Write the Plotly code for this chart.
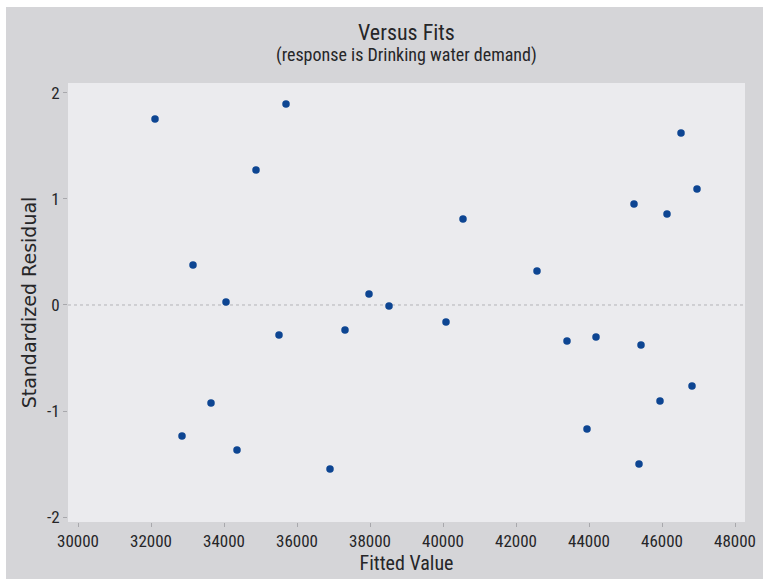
import plotly.graph_objects as go

# Data (Minitab "Versus Fits" residual plot)
fitted_values = [32110, 32849, 33151, 33644, 34055, 34356, 34877, 35507, 35699,
                 36904, 37315, 37973, 38521, 40082, 40548, 42575, 43397, 43945,
                 44192, 45233, 45370, 45425, 45945, 46137, 46521, 46822, 46959]
std_residuals = [1.755, -1.236, 0.377, -0.925, 0.028, -1.368, 1.274, -0.283, 1.896,
                 -1.547, -0.236, 0.104, -0.009, -0.160, 0.811, 0.321, -0.340, -1.170,
                 -0.302, 0.953, -1.500, -0.377, -0.906, 0.858, 1.623, -0.764, 1.094]
x_ticks = [30000, 32000, 34000, 36000, 38000, 40000, 42000, 44000, 46000, 48000]
x_ticktext = ["30000", "32000", "34000", "36000", "38000", "40000", "42000", "44000", "46000", "48000"]
y_ticks = [-2, -1, 0, 1, 2]
y_ticktext = ["-2", "-1", "0", "1", "2"]

FONT = "Roboto Condensed"
WIDE = "DejaVu Sans"
TXT = "#262628"

fig = go.Figure()
fig.add_trace(go.Scatter(
    x=fitted_values, y=std_residuals, mode="markers",
    marker=dict(color="#0d4592", size=7.5, line=dict(width=0)),
    showlegend=False, hoverinfo="x+y"))

# reference line at zero
fig.add_shape(type="line", xref="paper", yref="y", x0=0, x1=1, y0=0, y1=0,
              line=dict(color="#b4b4b8", width=1, dash="dot"), layer="below")

# white strips at the top and left edge of the picture
fig.add_shape(type="rect", xref="paper", yref="paper",
              x0=-68 / 677, x1=-62 / 677, y0=-57 / 439, y1=522 / 439,
              fillcolor="white", line=dict(width=0), layer="above")
fig.add_shape(type="rect", xref="paper", yref="paper",
              x0=-68 / 677, x1=695 / 677, y0=515 / 439, y1=522 / 439,
              fillcolor="white", line=dict(width=0), layer="above")

fig.add_annotation(text="Versus Fits", xref="paper", yref="paper",
                   x=0.5, y=(522 - 33) / 439, xanchor="center", yanchor="middle",
                   showarrow=False, font=dict(family=FONT, size=22, color=TXT))
fig.add_annotation(text="(response is Drinking water demand)", xref="paper", yref="paper",
                   x=0.5, y=(522 - 55) / 439, xanchor="center", yanchor="middle",
                   showarrow=False, font=dict(family=FONT, size=18, color=TXT))

fig.update_layout(
    template="none",
    width=763, height=579, autosize=False,
    margin=dict(l=68, r=18, t=83, b=57, pad=0),
    paper_bgcolor="#d5d5d8", plot_bgcolor="#ebebee",
    font=dict(family=FONT, color=TXT),
    xaxis=dict(range=[29726, 48274], tickvals=x_ticks, ticktext=x_ticktext,
               automargin=False, ticks="outside", ticklen=4, tickwidth=1,
               tickcolor="#a8a8ac", showgrid=False, zeroline=False, showline=False,
               tickfont=dict(family=FONT, size=17, color=TXT),
               title=dict(text="Fitted Value", standoff=1,
                          font=dict(family=FONT, size=20, color=TXT))),
    yaxis=dict(range=[-2.047, 2.094], tickvals=y_ticks, ticktext=y_ticktext,
               automargin=False, ticks="outside", ticklen=4, tickwidth=1,
               tickcolor="#a8a8ac", showgrid=False, zeroline=False, showline=False,
               tickfont=dict(family=FONT, size=17, color=TXT),
               title=dict(text="Standardized Residual", standoff=5,
                          font=dict(family=WIDE, size=19, color=TXT))),
)

fig.write_html("out.html")
